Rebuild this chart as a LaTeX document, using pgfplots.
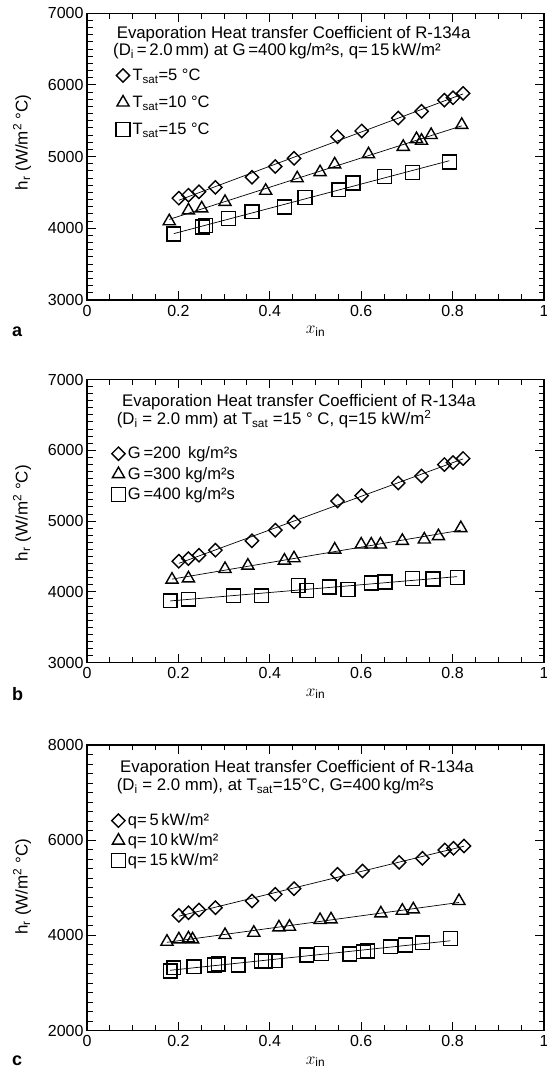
\documentclass[border=0pt]{standalone}
\usepackage{fontspec}
\setmainfont{Liberation Sans}
\usepackage{pgfplots}
\usepackage{pgfplotstable}
\pgfplotsset{compat=1.18}

% ---------- panel a ----------
\pgfplotstableread{
x y
0.201 4420
0.222 4462
0.245 4509
0.281 4571
0.361 4712
0.412 4863
0.453 4976
0.548 5278
0.601 5358
0.681 5538
0.732 5632
0.782 5788
0.801 5821
0.823 5882
}\aDia
\pgfplotstableread{
x y
0.180 4099
0.222 4250
0.251 4278
0.302 4368
0.391 4524
0.460 4698
0.510 4783
0.542 4892
0.616 5033
0.692 5137
0.721 5245
0.732 5222
0.753 5302
0.820 5443
}\aTri
\pgfplotstableread{
x y
0.190 3920
0.253 4019
0.260 4038
0.310 4137
0.361 4231
0.432 4297
0.477 4429
0.551 4538
0.582 4632
0.651 4722
0.712 4778
0.793 4925
}\aSq
% ---------- panel b ----------
\pgfplotstableread{
x y
0.201 4433
0.222 4470
0.245 4518
0.281 4589
0.361 4721
0.412 4872
0.453 4986
0.548 5284
0.601 5359
0.681 5539
0.732 5638
0.782 5799
0.801 5827
0.823 5884
}\bDia
\pgfplotstableread{
x y
0.186 4173
0.222 4191
0.302 4324
0.352 4371
0.432 4442
0.453 4475
0.542 4598
0.600 4669
0.622 4669
0.642 4669
0.690 4721
0.738 4740
0.769 4787
0.818 4901
}\bTri
\pgfplotstableread{
x y
0.182 3875
0.222 3898
0.321 3946
0.382 3946
0.462 4092
0.481 4017
0.530 4069
0.571 4031
0.622 4125
0.652 4139
0.712 4191
0.757 4182
0.810 4201
}\bSq
% ---------- panel c ----------
\pgfplotstableread{
x y
0.201 4422
0.222 4478
0.245 4534
0.281 4583
0.361 4723
0.412 4864
0.453 4983
0.548 5284
0.603 5354
0.683 5536
0.734 5620
0.783 5795
0.802 5830
0.825 5879
}\cDia
\pgfplotstableread{
x y
0.175 3869
0.201 3918
0.222 3939
0.231 3918
0.302 4009
0.365 4058
0.420 4170
0.443 4184
0.510 4324
0.534 4338
0.643 4464
0.690 4520
0.714 4548
0.814 4723
}\cTri
\pgfplotstableread{
x y
0.182 3253
0.190 3323
0.234 3344
0.279 3379
0.287 3400
0.331 3379
0.382 3463
0.390 3463
0.412 3470
0.481 3589
0.513 3624
0.575 3610
0.605 3659
0.614 3673
0.664 3764
0.697 3799
0.734 3848
0.795 3939
}\cSq

\pgfplotsset{
 panel/.style={
  scale only axis, width=457pt, anchor=south west,
  xmin=0, xmax=1, xtick={0,0.2,0.4,0.6,0.8,1}, minor x tick num=3, minor y tick num=9,
  axis line style={line width=1.1pt},
  major tick style={line width=1pt, black}, minor tick style={line width=1pt, black},
  major tick length=9pt, minor tick length=5.5pt,
  tick label style={font=\fontsize{16}{19}\selectfont},
  /pgf/number format/assume math mode=true,
  /pgf/number format/set thousands separator={},
  xticklabel style={yshift=-1.5pt},
  xlabel={$x$\textsubscript{in}},
  xlabel style={at={(axis description cs:0.5,0)}, anchor=center, yshift=-31pt, font=\fontsize{17}{19}\selectfont},
  ylabel={h\textsubscript{r} (W/m\textsuperscript{2} °C)},
  legend style={draw=none, fill=none, anchor=north west, font=\fontsize{16.5}{19}\selectfont, inner sep=0pt,
     nodes={inner sep=1pt}},
  legend cell align=left,
  legend image code/.code={\path[draw=none, fill=none] (0pt,-1pt) rectangle (16pt,1pt);
     \draw[mark repeat=2,mark phase=2,##1] plot coordinates {(0pt,0pt)(7.5pt,0pt)(15pt,0pt)};},
 },
 dia/.style={black, only marks, mark=square, mark size=4.7pt, mark options={rotate=45, line width=1.4pt}},
 tri/.style={black, only marks, mark=triangle, mark size=7pt, mark options={line width=1.4pt}},
 sq/.style={black, only marks, mark=square, mark size=6.9pt, mark options={line width=1.4pt}},
 fitl/.style={black, no marks, line width=0.7pt, forget plot},
}
\newcommand{\fitline}[1]{\addplot[fitl] table[x=x, y={create col/linear regression={y=y}}] {#1};}

\begin{document}
\begin{tikzpicture}[x=1pt,y=1pt]
% ----- panel a -----
\begin{axis}[panel, at={(87pt,770pt)}, height=286.7pt, ymin=3000, ymax=7000,
  ytick={3000,4000,5000,6000,7000},
  ylabel style={at={(axis description cs:-0.142,0.55)}, anchor=center, font=\fontsize{17}{19}\selectfont},
  legend style={at={(axis description cs:0.062,0.81)}, row sep=12pt}]
\addplot[dia] table {\aDia}; \addlegendentry{T\textsubscript{sat}=5 °C}
\addplot[tri] table {\aTri}; \addlegendentry{T\textsubscript{sat}=10 °C}
\addplot[sq] table {\aSq}; \addlegendentry{T\textsubscript{sat}=15 °C}
\fitline{\aDia}\fitline{\aTri}\fitline{\aSq}
\end{axis}
% ----- panel b -----
\begin{axis}[panel, at={(87pt,407.3pt)}, height=283.2pt, ymin=3000, ymax=7000,
  ytick={3000,4000,5000,6000,7000},
  ylabel style={at={(axis description cs:-0.142,0.528)}, anchor=center, font=\fontsize{17}{19}\selectfont},
  legend style={at={(axis description cs:0.052,0.766)}, row sep=5pt}]
\addplot[dia] table {\bDia}; \addlegendentry{G\,=200 \,kg/m²s}
\addplot[tri] table {\bTri}; \addlegendentry{G\,=300 kg/m²s}
\addplot[sq] table {\bSq}; \addlegendentry{G\,=400 kg/m²s}
\fitline{\bDia}\fitline{\bTri}\fitline{\bSq}
\end{axis}
% ----- panel c -----
\begin{axis}[panel, at={(87pt,39.3pt)}, height=285.7pt, ymin=2000, ymax=8000,
  ytick={2000,4000,6000,8000},
  ylabel style={at={(axis description cs:-0.142,0.504)}, anchor=center, font=\fontsize{17}{19}\selectfont},
  legend style={at={(axis description cs:0.052,0.763)}, row sep=4.5pt}]
\addplot[dia] table {\cDia}; \addlegendentry{q=\,5\,kW/m²}
\addplot[tri] table {\cTri}; \addlegendentry{q=\,10\,kW/m²}
\addplot[sq] table {\cSq}; \addlegendentry{q=\,15\,kW/m²}
\fitline{\cDia}\fitline{\cTri}\fitline{\cSq}
\end{axis}
% ----- titles -----
\begin{scope}[every node/.style={anchor=base west, inner sep=0pt, font=\fontsize{16.8}{19}\selectfont}]
\node at (116.6,1031.7) {Evaporation Heat transfer Coefficient of R-134a};
\node at (113,1014) {(D\textsubscript{i}\,=\,2.0\,mm) at G\,=400\,kg/m²s, q=\,15\,kW/m²};
\node at (122,663.3) {Evaporation Heat transfer Coefficient of R-134a};
\node at (116.7,645) {(D\textsubscript{i} = 2.0 mm) at T\textsubscript{sat} =15 ° C, q=15 kW/m\textsuperscript{2}};
\node at (120,297.7) {Evaporation Heat transfer Coefficient of R-134a};
\node at (116.7,279.3) {(D\textsubscript{i} = 2.0 mm), at T\textsubscript{sat}=15°C, G=400\,kg/m²s};
\end{scope}
\begin{scope}[every node/.style={anchor=base west, inner sep=0pt, font=\bfseries\fontsize{18}{20}\selectfont}]
\node at (12,733) {a};
\node at (12,369) {b};
\node at (12,5) {c};
\end{scope}
\pgfresetboundingbox
\useasboundingbox (0,0) rectangle (546,1070);
\end{tikzpicture}
\end{document}
